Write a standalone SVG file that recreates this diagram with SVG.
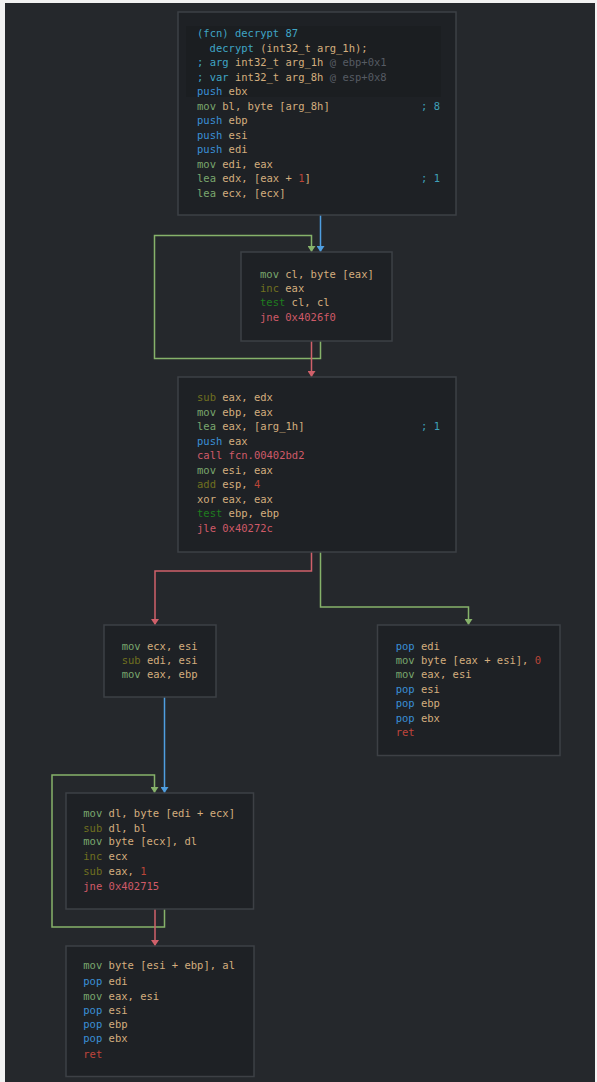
<svg xmlns="http://www.w3.org/2000/svg" width="597" height="1082" viewBox="0 0 597 1082">
<defs>
<style>
.bg{fill:#25282c}
.node{fill:#1e2125;stroke:#3d4045;stroke-width:1.5}
text{font-family:"DejaVu Sans Mono","Liberation Mono",monospace;font-size:10.5px;fill:#d4ae7e}
.mv{fill:#7aa86e}.ps{fill:#3a8fd6}.ol{fill:#707020}.ts{fill:#1f7d1f}.jr{fill:#d05a68}
.nm{fill:#bb4538}.cm{fill:#3fa0b8}.cy{fill:#3fa5c5}.gy{fill:#565b63}.rt{fill:#c0453c}
.eb{fill:none;stroke:#4f9ee0;stroke-width:1.5;marker-end:url(#ab)}
.eg{fill:none;stroke:#86b26a;stroke-width:1.5;marker-end:url(#ag)}
.er{fill:none;stroke:#d0606a;stroke-width:1.5;marker-end:url(#ar)}
</style>
<marker id="ab" viewBox="0 0 6 8" refX="6" refY="4" markerWidth="6" markerHeight="8" markerUnits="userSpaceOnUse" orient="auto"><path d="M0,0 L6,4 L0,8 Z" fill="#4f9ee0"/></marker>
<marker id="ag" viewBox="0 0 6 8" refX="6" refY="4" markerWidth="6" markerHeight="8" markerUnits="userSpaceOnUse" orient="auto"><path d="M0,0 L6,4 L0,8 Z" fill="#86b26a"/></marker>
<marker id="ar" viewBox="0 0 6 8" refX="6" refY="4" markerWidth="6" markerHeight="8" markerUnits="userSpaceOnUse" orient="auto"><path d="M0,0 L6,4 L0,8 Z" fill="#d0606a"/></marker>
</defs>
<rect class="bg" x="0" y="0" width="597" height="1082"/>
<rect x="0" y="0" width="5" height="1082" fill="#f2f2f2"/>
<rect x="0" y="0" width="597" height="3" fill="#f2f2f2"/>
<rect x="595" y="0" width="2" height="1082" fill="#f2f2f2"/>

<g id="edges">
<path class="eb" d="M320.5,215 V252"/>
<path class="eg" d="M320.5,341 V358.5 H154.5 V235.5 H311.5 V252"/>
<path class="er" d="M311.5,341 V377"/>
<path class="er" d="M311.5,552 V571 H155 V625"/>
<path class="eg" d="M320.5,552 V607 H468.5 V625"/>
<path class="eb" d="M164.5,697 V793"/>
<path class="eg" d="M164.5,909 V927 H52 V775 H154.5 V793"/>
<path class="er" d="M155,909 V946"/>
</g>

<g id="node1">
<rect class="node" x="178" y="12" width="278" height="203"/>
<rect x="186" y="26" width="255" height="71" fill="#1b1e21"/>
<text x="197" y="36.5"><tspan class="cy">(fcn) decrypt 87</tspan></text>
<text x="209.6" y="51.5"><tspan class="cy">decrypt</tspan> (int32_t arg_1h);</text>
<text x="197" y="66"><tspan class="cy">; arg</tspan> int32_t arg_1h <tspan class="gy">@ ebp+0x1</tspan></text>
<text x="197" y="80.5"><tspan class="cy">; var</tspan> int32_t arg_8h <tspan class="gy">@ esp+0x8</tspan></text>
<text x="197" y="95"><tspan class="ps">push</tspan> ebx</text>
<text x="197" y="109.5"><tspan class="mv">mov</tspan> bl, byte [arg_8h]</text>
<text x="421" y="109.5" class="cm">; 8</text>
<text x="197" y="124"><tspan class="ps">push</tspan> ebp</text>
<text x="197" y="138.5"><tspan class="ps">push</tspan> esi</text>
<text x="197" y="153"><tspan class="ps">push</tspan> edi</text>
<text x="197" y="167.5"><tspan class="mv">mov</tspan> edi, eax</text>
<text x="197" y="182"><tspan class="mv">lea</tspan> edx, [eax + <tspan class="nm">1</tspan>]</text>
<text x="421" y="182" class="cm">; 1</text>
<text x="197" y="196.5"><tspan class="mv">lea</tspan> ecx, [ecx]</text>
</g>

<g id="node2">
<rect class="node" x="241" y="252" width="151" height="89"/>
<text x="260" y="278"><tspan class="mv">mov</tspan> cl, byte [eax]</text>
<text x="260" y="292"><tspan class="ol">inc</tspan> eax</text>
<text x="260" y="306"><tspan class="ts">test</tspan> cl, cl</text>
<text x="260" y="320.5" class="jr">jne 0x4026f0</text>
</g>

<g id="node3">
<rect class="node" x="178" y="377" width="278" height="175"/>
<text x="197" y="401"><tspan class="ol">sub</tspan> eax, edx</text>
<text x="197" y="415.5"><tspan class="mv">mov</tspan> ebp, eax</text>
<text x="197" y="430"><tspan class="mv">lea</tspan> eax, [arg_1h]</text>
<text x="421" y="430" class="cm">; 1</text>
<text x="197" y="444.5"><tspan class="ps">push</tspan> eax</text>
<text x="197" y="459" class="jr">call fcn.00402bd2</text>
<text x="197" y="473.5"><tspan class="mv">mov</tspan> esi, eax</text>
<text x="197" y="488"><tspan class="ol">add</tspan> esp, <tspan class="nm">4</tspan></text>
<text x="197" y="502.5">xor eax, eax</text>
<text x="197" y="517"><tspan class="ts">test</tspan> ebp, ebp</text>
<text x="197" y="531.5" class="jr">jle 0x40272c</text>
</g>

<g id="node4">
<rect class="node" x="104" y="625" width="112" height="72"/>
<text x="121.7" y="649.5"><tspan class="mv">mov</tspan> ecx, esi</text>
<text x="121.7" y="663.5"><tspan class="ol">sub</tspan> edi, esi</text>
<text x="121.7" y="677.5"><tspan class="mv">mov</tspan> eax, ebp</text>
</g>

<g id="node5">
<rect class="node" x="377.5" y="625" width="182.5" height="130.5"/>
<text x="395.7" y="649.5"><tspan class="ps">pop</tspan> edi</text>
<text x="395.7" y="663.5"><tspan class="mv">mov</tspan> byte [eax + esi], <tspan class="nm">0</tspan></text>
<text x="395.7" y="677.5"><tspan class="mv">mov</tspan> eax, esi</text>
<text x="395.7" y="692.5"><tspan class="ps">pop</tspan> esi</text>
<text x="395.7" y="707"><tspan class="ps">pop</tspan> ebp</text>
<text x="395.7" y="721.5"><tspan class="ps">pop</tspan> ebx</text>
<text x="395.7" y="735.5" class="rt">ret</text>
</g>

<g id="node6">
<rect class="node" x="66" y="793" width="187.5" height="116"/>
<text x="83.3" y="816.8"><tspan class="mv">mov</tspan> dl, byte [edi + ecx]</text>
<text x="83.3" y="831.5"><tspan class="ol">sub</tspan> dl, bl</text>
<text x="83.3" y="845.2"><tspan class="mv">mov</tspan> byte [ecx], dl</text>
<text x="83.3" y="860"><tspan class="ol">inc</tspan> ecx</text>
<text x="83.3" y="875"><tspan class="ol">sub</tspan> eax, <tspan class="nm">1</tspan></text>
<text x="83.3" y="889.5" class="jr">jne 0x402715</text>
</g>

<g id="node7">
<rect class="node" x="66" y="946" width="188" height="130.5"/>
<text x="83.3" y="968.5"><tspan class="mv">mov</tspan> byte [esi + ebp], al</text>
<text x="83.3" y="985"><tspan class="ps">pop</tspan> edi</text>
<text x="83.3" y="999.5"><tspan class="mv">mov</tspan> eax, esi</text>
<text x="83.3" y="1013.5"><tspan class="ps">pop</tspan> esi</text>
<text x="83.3" y="1027.8"><tspan class="ps">pop</tspan> ebp</text>
<text x="83.3" y="1041.8"><tspan class="ps">pop</tspan> ebx</text>
<text x="83.3" y="1057.5" class="rt">ret</text>
</g>
</svg>
